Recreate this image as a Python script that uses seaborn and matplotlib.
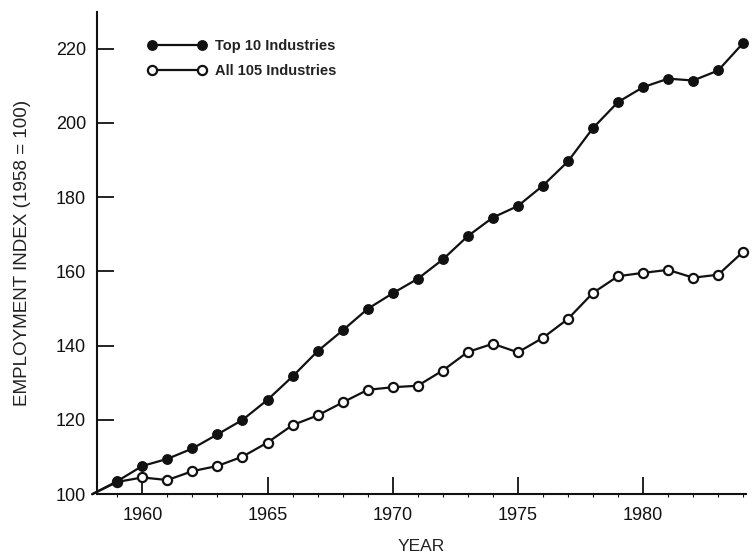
import pandas as pd
import matplotlib
matplotlib.use("Agg")
import matplotlib.pyplot as plt
import seaborn as sns

# Data (index, 1958 = 100)
years = list(range(1958, 1985))
top10 = [100, 103.5, 107.6, 109.5, 112.3, 116.1, 120.0, 125.4, 131.7, 138.5,
         144.1, 149.9, 154.1, 158.0, 163.2, 169.5, 174.5, 177.6, 183.1, 189.6,
         198.6, 205.6, 209.6, 211.9, 211.4, 214.1, 221.5]
all105 = [100, 103.3, 104.5, 103.8, 106.2, 107.6, 110.1, 113.9, 118.6, 121.2,
          124.7, 128.1, 128.8, 129.2, 133.3, 138.3, 140.5, 138.2, 142.1, 147.2,
          154.2, 158.7, 159.6, 160.4, 158.3, 159.1, 165.3]
series_names = ["Top 10 Industries", "All 105 Industries"]
x_ticks = [1960, 1965, 1970, 1975, 1980]
y_ticks = [100, 120, 140, 160, 180, 200, 220]

df = pd.DataFrame({"year": years, series_names[0]: top10, series_names[1]: all105})

sns.set_style("ticks")
plt.rcParams['font.family'] = ['Liberation Sans', 'DejaVu Sans']

fig = plt.figure(figsize=(7.54, 5.54), dpi=100)
ax = fig.add_axes([0.129, 0.108, 0.860, 0.870])

ink = "#111111"
marks = list(range(1, len(years)))

# open circles first so the filled ones sit on top where they overlap
sns.lineplot(data=df, x="year", y=series_names[1], ax=ax, estimator=None,
             color=ink, linewidth=1.6, marker="o", markersize=6.6,
             markerfacecolor="white", markeredgecolor=ink, markeredgewidth=1.6,
             markevery=marks, clip_on=False, label=series_names[1], legend=False)
sns.lineplot(data=df, x="year", y=series_names[0], ax=ax, estimator=None,
             color=ink, linewidth=1.6, marker="o", markersize=6.8,
             markerfacecolor=ink, markeredgecolor=ink, markeredgewidth=1.0,
             markevery=marks, clip_on=False, label=series_names[0], legend=False)

ax.set_xlim(1958.2, 1984.1)
ax.set_ylim(100, 229.8)
ax.set_xticks(x_ticks)
ax.set_xticks(years[1:], minor=True)
ax.set_yticks(y_ticks)

ax.tick_params(axis="both", which="major", direction="in", length=12, width=1.3,
               labelsize=13, colors=ink)
ax.tick_params(axis="x", which="major", pad=9)
ax.tick_params(axis="y", which="major", pad=8)
ax.tick_params(axis="x", which="minor", direction="out", length=2, width=0.8, colors=ink)

for side in ["top", "right"]:
    ax.spines[side].set_visible(False)
for side in ["left", "bottom"]:
    ax.spines[side].set_linewidth(1.5)
    ax.spines[side].set_color(ink)

ax.set_xlabel("YEAR", fontsize=12.5, color="#222222", labelpad=11)
ax.set_ylabel("EMPLOYMENT INDEX (1958 = 100)", fontsize=13.6, color="#222222", labelpad=18)

handles, labels = ax.get_legend_handles_labels()
order = [labels.index(n) for n in series_names]
leg = ax.legend([handles[i] for i in order], [labels[i] for i in order],
                loc="upper left", bbox_to_anchor=(0.078, 0.945), frameon=False,
                numpoints=2, handlelength=4.0, handletextpad=0.6, labelspacing=0.75,
                borderpad=0, borderaxespad=0,
                prop={"size": 10.5, "weight": "bold"})
for t in leg.get_texts():
    t.set_color("#222222")

fig.savefig("out.png", dpi=100, facecolor="white")
